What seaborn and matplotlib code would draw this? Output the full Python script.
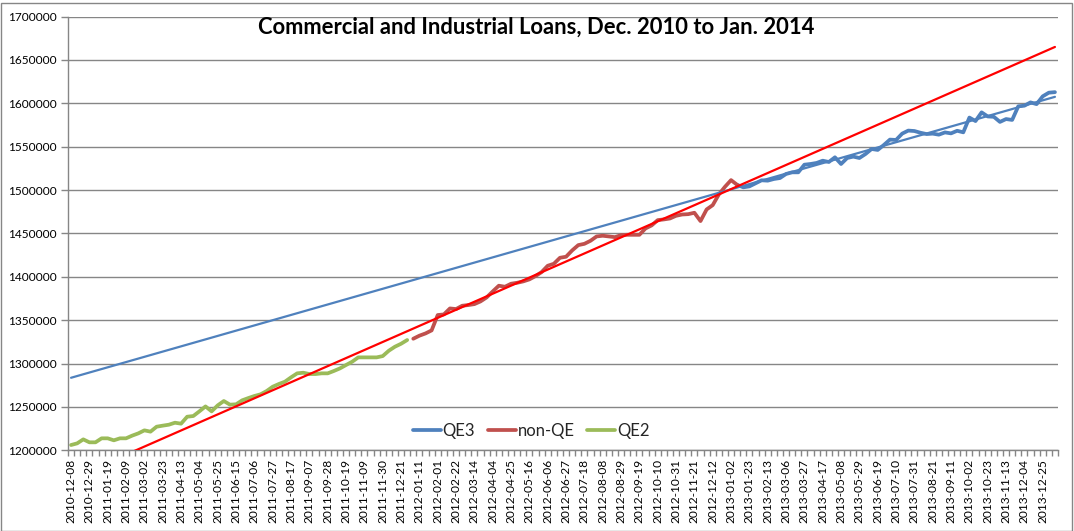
import numpy as np
import pandas as pd
import matplotlib
matplotlib.use("Agg")
import matplotlib.pyplot as plt
from matplotlib.patches import Rectangle
import seaborn as sns

# ---- data ----
start_date = "2010-12-08"
n_weeks = 162
dates = pd.date_range(start_date, periods=n_weeks, freq="7D").strftime("%Y-%m-%d").tolist()

qe2_start = 0
qe2 = [1206100, 1208000, 1212600, 1209200, 1209200, 1213800, 1213800, 1211500, 1213800, 1213800,
       1216900, 1219500, 1223000, 1221500, 1227200, 1228400, 1229500, 1231800, 1230700, 1238700,
       1239500, 1244900, 1250600, 1244900, 1251800, 1256800, 1252600, 1253000, 1257600,
       1260200, 1262600, 1264500, 1268300, 1273300, 1276400, 1279100, 1284100, 1288700, 1289400,
       1287900, 1287900, 1288700, 1288700, 1291400, 1294400, 1298300, 1302100, 1307100, 1307100,
       1307100, 1307100, 1308600, 1314800, 1319400, 1322800, 1327100]

nonqe_start = 56
non_qe = [1328600, 1332100, 1334700, 1338200, 1355900, 1356600, 1363500, 1362800, 1366600, 1367400,
          1368500, 1371600, 1376200, 1383100, 1389700, 1388500, 1392000, 1393100, 1394700, 1397000,
          1400800, 1405400, 1412700, 1415000, 1421900, 1423100, 1430400, 1436500, 1438000,
          1441500, 1446500, 1447300, 1446500, 1445700, 1448000, 1448400, 1448400, 1448400, 1455700,
          1459200, 1465300, 1466100, 1467200, 1470300, 1471800, 1472200, 1473800, 1464200, 1477600,
          1482600, 1494900, 1503700, 1511400, 1506000]

qe3_start = 109
qe3 = [1506000, 1503100, 1504200, 1507700, 1511200, 1510800, 1512700, 1513800, 1518500, 1520400,
       1520400, 1529200, 1530000, 1531200, 1533800, 1532300, 1537700, 1530000, 1536900, 1538500,
       1536900, 1541500, 1547300, 1546200, 1551900, 1558100, 1557700, 1565000, 1568500, 1568000,
       1566000, 1564500, 1565000, 1563800, 1566400, 1565300, 1568300, 1566500, 1583500,
       1579500, 1589500, 1584800, 1584400, 1578500, 1581800, 1580800, 1596500, 1597200, 1601000,
       1599000, 1608000, 1612200, 1612800]

# linear trend lines: values at first and last week
qe3_trend = [1283600, 1607400]
nonqe_trend = [1167200, 1664900]

series_names = ["QE3", "non-QE", "QE2"]
colors = {"QE3": "#4F81BD", "non-QE": "#C0504D", "QE2": "#9BBB59"}

title = "Commercial and Industrial Loans, Dec. 2010 to Jan. 2014"
y_ticks = list(range(1200000, 1700001, 50000))

# ---- build frames ----
rows = []
for name, st, vals in [("QE2", qe2_start, qe2), ("non-QE", nonqe_start, non_qe), ("QE3", qe3_start, qe3)]:
    for k, v in enumerate(vals):
        rows.append({"week": st + k, "value": v, "series": name})
df = pd.DataFrame(rows)

last = n_weeks - 1
trend_df = pd.DataFrame({
    "week": [0, last, 0, last],
    "value": qe3_trend + nonqe_trend,
    "trend": ["QE3 trend", "QE3 trend", "non-QE trend", "non-QE trend"],
})

# ---- figure ----
sns.set_theme(style="white")
plt.rcParams["font.family"] = ["Lato", "DejaVu Sans"]

W, H = 1074, 531
fig = plt.figure(figsize=(W / 100, H / 100), dpi=100)
ax_l, ax_r, ax_b, ax_t = 68, 1058, 450.3, 16.5
ax = fig.add_axes([ax_l / W, (H - ax_b) / H, (ax_r - ax_l) / W, (ax_b - ax_t) / H])

grid_c = "#868686"
for yv in y_ticks:
    ax.axhline(yv, color=grid_c, lw=1.0, zorder=0)

sns.lineplot(data=df, x="week", y="value", hue="series", hue_order=series_names,
             palette=colors, linewidth=2.7, ax=ax, zorder=2, estimator=None, sort=True)

sns.lineplot(data=trend_df, x="week", y="value", hue="trend",
             palette={"QE3 trend": "#4F81BD", "non-QE trend": "#FF0000"},
             linewidth=1.6, ax=ax, zorder=3, legend=False, estimator=None)

ax.set_xlim(-0.5, n_weeks - 0.5)
ax.set_ylim(1200000, 1700000)
ax.set_xlabel("")
ax.set_ylabel("")

ax.set_yticks(y_ticks)
ax.set_yticklabels([str(v) for v in y_ticks], fontsize=8.6)
ax.tick_params(axis="y", length=5, width=1, color=grid_c, pad=3, labelcolor="black", left=True)

major_idx = list(range(0, n_weeks, 3))
ax.set_xticks(major_idx)
ax.set_xticklabels([dates[i] for i in major_idx], rotation=90, fontsize=8.6)
ax.set_xticks(np.arange(-0.5, n_weeks, 1), minor=True)
ax.tick_params(axis="x", which="major", length=0, pad=6, labelcolor="black")
ax.tick_params(axis="x", which="minor", length=4, width=1, color=grid_c, bottom=True)

for s in ["top", "right"]:
    ax.spines[s].set_visible(False)
for s in ["left", "bottom"]:
    ax.spines[s].set_color(grid_c)
    ax.spines[s].set_linewidth(1.0)

leg = ax.legend(loc="center", bbox_to_anchor=(0.468, 0.0445), ncol=3, frameon=False,
                fontsize=12, handlelength=1.66, handletextpad=0.1, columnspacing=0.78,
                borderpad=0.0)
for line in leg.get_lines():
    line.set_linewidth(2.7)

fig.text(536.5 / W, (H - 27) / H, title, ha="center", va="center",
         fontsize=15.8, fontweight="bold", color="black")

fig.patches.append(Rectangle((0.5 / W, 0.5 / H), (W - 3) / W, (H - 3) / H,
                             transform=fig.transFigure, fill=False, ec=grid_c, lw=1))

fig.savefig("out.png", dpi=100)
